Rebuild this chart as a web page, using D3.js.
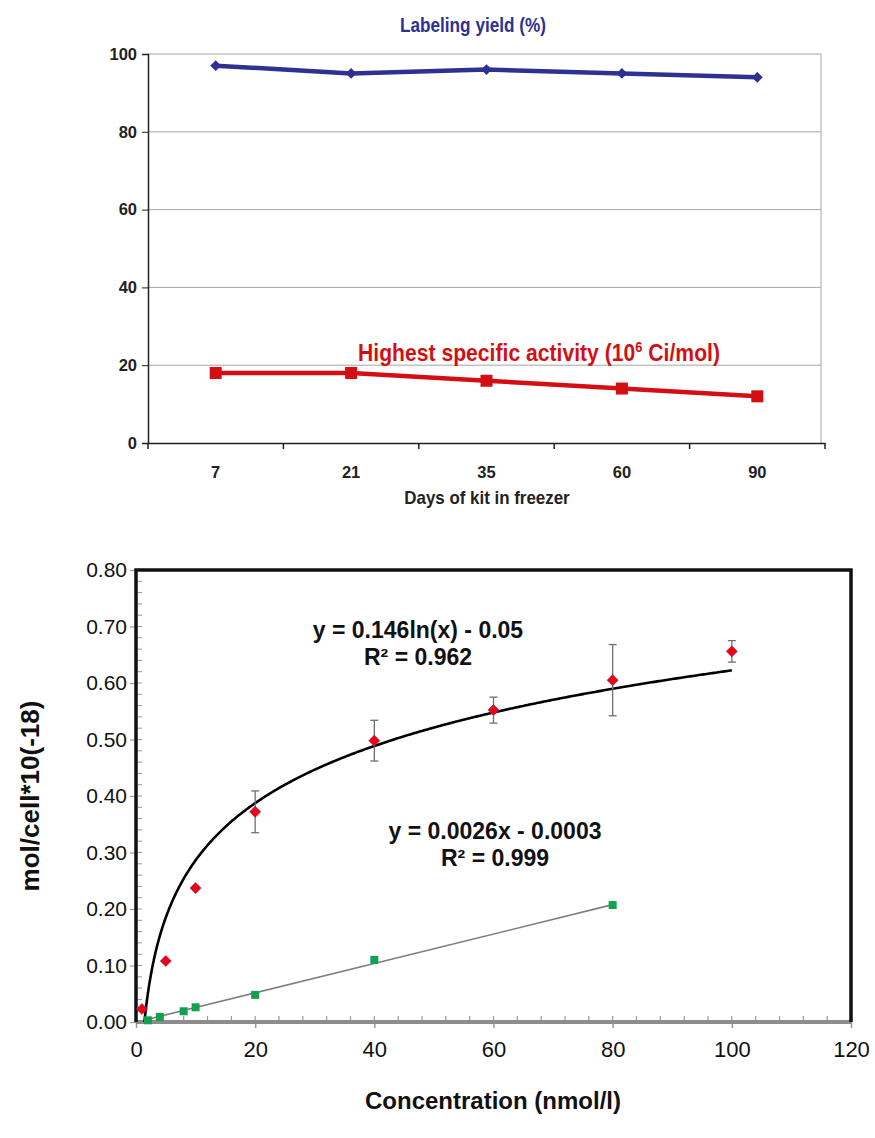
<!DOCTYPE html>
<html><head><meta charset="utf-8">
<script src="https://cdn.jsdelivr.net/npm/d3@7"></script>
<style>body{margin:0;background:#fff} svg{display:block}</style>
</head><body><svg id="c" width="875" height="1138"></svg>
<script>
// ---------- Top chart data ----------
const days = ["7", "21", "35", "60", "90"];
const labelingYield = [97, 95, 96, 95, 94];
const specificActivity = [18, 18, 16, 14, 12];
const topYTicks = [0, 20, 40, 60, 80, 100];

// ---------- Bottom chart data ----------
const concRed = [1, 5, 10, 20, 40, 60, 80, 100];
const uptakeRed = [0.023, 0.108, 0.237, 0.372, 0.498, 0.552, 0.605, 0.656];
const errRed = [0, 0, 0, 0.037, 0.036, 0.023, 0.063, 0.019];
const concGreen = [2, 4, 8, 10, 20, 40, 80];
const uptakeGreen = [0.003, 0.009, 0.019, 0.026, 0.048, 0.110, 0.207];
const bottomYTicks = [0, 0.1, 0.2, 0.3, 0.4, 0.5, 0.6, 0.7, 0.8];
const bottomXTicks = [0, 20, 40, 60, 80, 100, 120];
const logFitA = 0.146, logFitB = -0.05;
const linFitM = 0.0026, linFitC = -0.0003;

const svg = d3.select("#c");
const SANS = "'Liberation Sans',Arial,sans-serif";

// condensed text helper
const ctext = (g, tx, ty, size, sx, color) => g.append("text")
  .attr("transform", `translate(${tx},${ty}) scale(${sx},1)`).attr("text-anchor", "middle")
  .attr("font-family", SANS).attr("font-weight", "bold").attr("font-size", size).attr("fill", color);

// ================= TOP CHART =================
const xT = d3.scaleBand().domain(days).range([148, 825]);
const yT = d3.scaleLinear().domain([0, 100]).range([443, 54]);
const topG = svg.append("g");

// gridlines
topG.append("g").selectAll("line").data(topYTicks.filter(d => d > 0)).join("line")
  .attr("x1", 148).attr("x2", 821).attr("y1", d => yT(d)).attr("y2", d => yT(d))
  .attr("stroke", "#a6a6a6").attr("stroke-width", 1);
// right border
topG.append("line").attr("x1", 821).attr("x2", 821).attr("y1", yT(100)).attr("y2", yT(0))
  .attr("stroke", "#a6a6a6").attr("stroke-width", 1);

// y axis
const yAxT = topG.append("g").attr("transform", "translate(148,0)")
  .call(d3.axisLeft(yT).tickValues(topYTicks).tickSize(6).tickPadding(5));
yAxT.select(".domain").attr("stroke", "#222").attr("stroke-width", 1.5);
yAxT.selectAll(".tick line").attr("stroke", "#222");
yAxT.selectAll("text").attr("font-family", SANS).attr("font-weight", "bold").attr("font-size", 16.5).attr("fill", "#222");

// x axis
const xAxT = topG.append("g").attr("transform", `translate(0,${yT(0)})`)
  .call(d3.axisBottom(xT).tickSize(0).tickPadding(23));
xAxT.select(".domain").attr("stroke", "#222").attr("stroke-width", 1.5);
xAxT.selectAll("text").attr("font-family", SANS).attr("font-weight", "bold").attr("font-size", 16.5).attr("fill", "#222");
const edges = days.map(d => xT(d)).concat([xT.range()[1]]);
topG.append("g").selectAll("line").data(edges).join("line")
  .attr("x1", d => d).attr("x2", d => d).attr("y1", yT(0)).attr("y2", yT(0) + 6)
  .attr("stroke", "#222").attr("stroke-width", 1.5);

// title x
ctext(topG, 487, 504, 18, 0.94, "#222").text("Days of kit in freezer");

const cx = d => xT(d) + xT.bandwidth() / 2;
// blue series
const blue = "#2e3192";
topG.append("path").datum(labelingYield.map((v, i) => [cx(days[i]), yT(v)]))
  .attr("d", d3.line()).attr("fill", "none").attr("stroke", blue).attr("stroke-width", 4.5);
topG.append("g").selectAll("path").data(labelingYield).join("path")
  .attr("transform", (v, i) => `translate(${cx(days[i])},${yT(v)})`)
  .attr("d", d3.symbol(d3.symbolDiamond2, 75)).attr("fill", blue);
ctext(topG, 473, 32, 20, 0.86, blue).text("Labeling yield (%)");

// red series
const red = "#d40f14";
topG.append("path").datum(specificActivity.map((v, i) => [cx(days[i]), yT(v)]))
  .attr("d", d3.line()).attr("fill", "none").attr("stroke", red).attr("stroke-width", 4.5);
topG.append("g").selectAll("rect").data(specificActivity).join("rect")
  .attr("x", (v, i) => cx(days[i]) - 6).attr("y", v => yT(v) - 6)
  .attr("width", 12).attr("height", 12).attr("fill", red);
const rl = ctext(topG, 539, 361, 23, 0.92, red);
rl.append("tspan").text("Highest specific activity (10");
rl.append("tspan").attr("font-size", 14).attr("dy", -9).text("6");
rl.append("tspan").attr("dy", 9).text(" Ci/mol)");

// ================= BOTTOM CHART =================
const x = d3.scaleLinear().domain([0, 120]).range([136, 851]);
const y = d3.scaleLinear().domain([0, 0.8]).range([1022, 570]);
const bot = svg.append("g");

svg.append("clipPath").attr("id", "plotclip").append("rect")
  .attr("x", x(0)).attr("y", y(0.8)).attr("width", x(120) - x(0)).attr("height", y(0) - y(0.8));

// minor ticks y (inside)
const yMinor = d3.range(0, 0.8001, 0.02);
bot.append("g").selectAll("line").data(yMinor).join("line")
  .attr("x1", x(0)).attr("x2", x(0) + 6).attr("y1", d => y(d)).attr("y2", d => y(d))
  .attr("stroke", "#999").attr("stroke-width", 1);
// minor ticks x (inside)
const xMinor = d3.range(0, 120.01, 4);
bot.append("g").selectAll("line").data(xMinor).join("line")
  .attr("x1", d => x(d)).attr("x2", d => x(d)).attr("y1", y(0)).attr("y2", y(0) - 6)
  .attr("stroke", "#999").attr("stroke-width", 1.2);

// y axis
const yAx = bot.append("g").attr("transform", `translate(${x(0)},0)`)
  .call(d3.axisLeft(y).tickValues(bottomYTicks).tickFormat(d3.format(".2f")).tickSize(6).tickPadding(3));
yAx.select(".domain").remove();
yAx.selectAll(".tick line").attr("stroke", "#999").attr("stroke-width", 1.2);
yAx.selectAll("text").attr("font-family", SANS).attr("font-size", 21).attr("fill", "#111");

// x axis
const xAx = bot.append("g").attr("transform", `translate(0,${y(0)})`)
  .call(d3.axisBottom(x).tickValues(bottomXTicks).tickSize(6).tickPadding(13));
xAx.select(".domain").remove();
xAx.selectAll(".tick line").attr("stroke", "#999").attr("stroke-width", 1.5);
xAx.selectAll("text").attr("font-family", SANS).attr("font-size", 22).attr("fill", "#111");
bot.append("line").attr("x1", x(0)).attr("x2", x(120)).attr("y1", y(0)).attr("y2", y(0))
  .attr("stroke", "#8c8c8c").attr("stroke-width", 4);

// box: left, top, right
bot.append("path")
  .attr("d", `M${x(0)},${y(0)}V${y(0.8)}H${x(120)}V${y(0)}`)
  .attr("fill", "none").attr("stroke", "#111").attr("stroke-width", 3.5);

// linear trendline
bot.append("line")
  .attr("x1", x(concGreen[0])).attr("y1", y(linFitM * concGreen[0] + linFitC))
  .attr("x2", x(concGreen[concGreen.length - 1])).attr("y2", y(linFitM * concGreen[concGreen.length - 1] + linFitC))
  .attr("stroke", "#7f7f7f").attr("stroke-width", 1.6);

// log trendline
const logPts = d3.range(1, 100.001, 0.25).map(c => [x(c), y(logFitA * Math.log(c) + logFitB)]);
bot.append("path").datum(logPts).attr("clip-path", "url(#plotclip)")
  .attr("d", d3.line()).attr("fill", "none").attr("stroke", "#000").attr("stroke-width", 2.6);

// error bars
const eb = bot.append("g").attr("stroke", "#6f6f6f").attr("stroke-width", 1.3);
concRed.forEach((c, i) => {
  if (!errRed[i]) return;
  const cxp = x(c), y1 = y(uptakeRed[i] + errRed[i]), y2 = y(uptakeRed[i] - errRed[i]);
  eb.append("line").attr("x1", cxp).attr("x2", cxp).attr("y1", y1).attr("y2", y2);
  eb.append("line").attr("x1", cxp - 4).attr("x2", cxp + 4).attr("y1", y1).attr("y2", y1);
  eb.append("line").attr("x1", cxp - 4).attr("x2", cxp + 4).attr("y1", y2).attr("y2", y2);
});

// green squares
bot.append("g").selectAll("rect").data(uptakeGreen).join("rect")
  .attr("x", (v, i) => x(concGreen[i]) - 4).attr("y", v => y(v) - 4)
  .attr("width", 8).attr("height", 8).attr("fill", "#12a150");

// red diamonds
bot.append("g").selectAll("path").data(uptakeRed).join("path")
  .attr("transform", (v, i) => `translate(${x(concRed[i])},${y(v)})`)
  .attr("d", d3.symbol(d3.symbolDiamond2, 80)).attr("fill", "#f00010")
  .attr("stroke", "#7a3a8a").attr("stroke-width", 0.6);

// equations
const eq = (tx, ty, lines) => {
  const t = bot.append("text").attr("text-anchor", "middle")
    .attr("font-family", SANS).attr("font-weight", "bold").attr("font-size", 23).attr("fill", "#111");
  lines.forEach((l, k) => t.append("tspan").attr("x", tx).attr("y", ty + k * 27).text(l));
};
eq(418, 638, ["y = 0.146ln(x) - 0.05", "R² = 0.962"]);
eq(495, 839, ["y = 0.0026x - 0.0003", "R² = 0.999"]);

// axis titles
bot.append("text").attr("transform", `translate(39,${(y(0) + y(0.8)) / 2}) rotate(-90)`)
  .attr("text-anchor", "middle").attr("font-family", SANS).attr("font-weight", "bold")
  .attr("font-size", 26).attr("fill", "#111").text("mol/cell*10(-18)");
bot.append("text").attr("x", 493).attr("y", 1109).attr("text-anchor", "middle")
  .attr("font-family", SANS).attr("font-weight", "bold").attr("font-size", 24).attr("fill", "#111")
  .text("Concentration (nmol/l)");
</script></body></html>
